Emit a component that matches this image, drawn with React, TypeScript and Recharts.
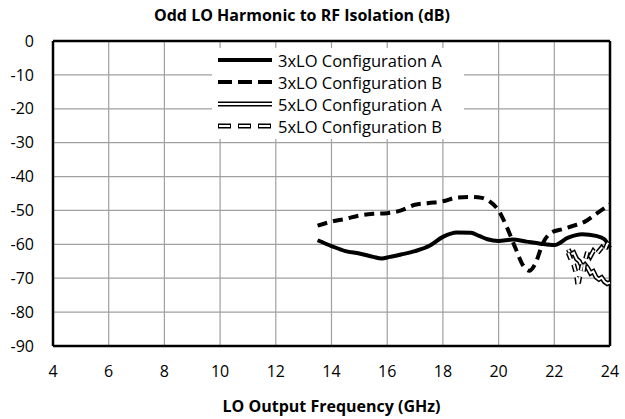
import { LineChart, Line, XAxis, YAxis, CartesianGrid, ReferenceLine } from "recharts";

const xTicks = [4, 6, 8, 10, 12, 14, 16, 18, 20, 22, 24];
const yTicks = [-90, -80, -70, -60, -50, -40, -30, -20, -10, 0];

// 3xLO configuration A (solid)
const freqA3 = [13.5, 14, 14.5, 15, 15.5, 15.8, 16.1, 16.5, 17, 17.5, 18, 18.5, 19, 19.3, 19.6, 20, 20.5, 21, 21.5, 22, 22.5, 23, 23.5, 23.8, 24];
const isoA3 = [-58.8, -60.5, -62, -62.7, -63.7, -64.2, -63.7, -63, -62, -60.5, -57.8, -56.5, -56.6, -57.5, -58.5, -59, -58.6, -59.2, -59.8, -60.2, -58, -57, -57.5, -58.5, -61];

// 3xLO configuration B (dashed)
const freqB3 = [13.5, 14, 14.5, 15, 15.5, 16, 16.5, 17, 17.5, 18, 18.5, 19, 19.4, 19.7, 20, 20.3, 20.6, 20.9, 21.1, 21.3, 21.6, 21.9, 22.3, 22.7, 23.1, 23.5, 24];
const isoB3 = [-54.5, -53.3, -52.5, -51.5, -51, -50.8, -50, -48.3, -47.8, -47.3, -46.2, -46, -46.3, -47.5, -50, -55, -61, -66.5, -67.8, -66, -59.5, -56.5, -55.5, -54.5, -53.3, -51, -48.2];

// 5xLO configuration A (double line)
const freqA5 = [22.5, 22.6, 22.7, 22.8, 22.9, 23, 23.1, 23.2, 23.3, 23.4, 23.5, 23.6, 23.7, 23.8, 23.9, 24];
const isoA5 = [-61.5, -63, -62.5, -64.3, -65, -66.7, -66, -67, -68.5, -68, -69.7, -70.3, -69.8, -71, -71.6, -71.3];

// 5xLO configuration B (double dashed)
const freqB5 = [22.5, 22.6, 22.7, 22.8, 22.85, 22.9, 23, 23.05, 23.1, 23.2, 23.3, 23.4, 23.5, 23.6, 23.7, 23.8, 23.9, 24];
const isoB5 = [-62.5, -64.5, -66, -69, -72.5, -70, -66, -68, -65, -62, -63.5, -62, -63, -62, -61, -62, -60, -59];

const toRows = (f: number[], v: number[]) => f.map((x, i) => ({ f: x, v: v[i] }));

const legendItems = [
  { name: "3xLO Configuration A", kind: "solid" },
  { name: "3xLO Configuration B", kind: "dash" },
  { name: "5xLO Configuration A", kind: "double" },
  { name: "5xLO Configuration B", kind: "doubleDash" },
];

const font = "'Open Sans', sans-serif";

function Sample({ kind }: { kind: string }) {
  return (
    <svg width={56} height={10} style={{ display: "block" }}>
      {kind === "solid" && <line x1={1} y1={5} x2={55} y2={5} stroke="#000" strokeWidth={4} />}
      {kind === "dash" && <line x1={1} y1={5} x2={55} y2={5} stroke="#000" strokeWidth={4} strokeDasharray="14 6" />}
      {kind === "double" && (
        <>
          <line x1={1} y1={5} x2={55} y2={5} stroke="#000" strokeWidth={5} />
          <line x1={1} y1={5} x2={55} y2={5} stroke="#fff" strokeWidth={2} />
        </>
      )}
      {kind === "doubleDash" && (
        <>
          <line x1={1} y1={5} x2={55} y2={5} stroke="#000" strokeWidth={5} strokeDasharray="13 7" />
          <line x1={2} y1={5} x2={55} y2={5} stroke="#fff" strokeWidth={2} strokeDasharray="11 9" />
        </>
      )}
    </svg>
  );
}

export default function App() {
  return (
    <div style={{ position: "absolute", left: 0, top: 0, width: 625, height: 419, background: "#fff", fontFamily: font }}>
      <LineChart width={625} height={419} margin={{ top: 41, right: 15, bottom: 0, left: 0 }}>
        <CartesianGrid stroke="#a0a0a0" strokeWidth={1.2} />
        <XAxis
          type="number"
          dataKey="f"
          domain={[4, 24]}
          ticks={xTicks}
          allowDuplicatedCategory={false}
          axisLine={{ stroke: "#000", strokeWidth: 2.5 }}
          tickLine={false}
          tickMargin={14}
          height={73}
          tick={{ fontSize: 16, fill: "#000", fontFamily: font }}
          label={{ value: "LO Output Frequency (GHz)", position: "insideBottom", offset: 7, style: { fontSize: 16, fontWeight: 700, fill: "#000", fontFamily: font } }}
        />
        <YAxis
          type="number"
          domain={[-90, 0]}
          ticks={yTicks}
          axisLine={{ stroke: "#000", strokeWidth: 2.5 }}
          tickLine={false}
          tickMargin={13}
          width={53}
          tick={{ fontSize: 16, fill: "#000", fontFamily: font }}
        />
        <ReferenceLine y={0} stroke="#000" strokeWidth={2.5} />
        <ReferenceLine x={24} stroke="#000" strokeWidth={2.5} />
        <Line data={toRows(freqA3, isoA3)} dataKey="v" type="monotone" stroke="#000" strokeWidth={4} dot={false} isAnimationActive={false} />
        <Line data={toRows(freqB3, isoB3)} dataKey="v" type="monotone" stroke="#000" strokeWidth={4} strokeDasharray="10 6" dot={false} isAnimationActive={false} />
        <Line data={toRows(freqA5, isoA5)} dataKey="v" type="linear" stroke="#000" strokeWidth={5} dot={false} isAnimationActive={false} />
        <Line data={toRows(freqA5, isoA5)} dataKey="v" type="linear" stroke="#fff" strokeWidth={2} dot={false} isAnimationActive={false} />
        <Line data={toRows(freqB5, isoB5)} dataKey="v" type="linear" stroke="#000" strokeWidth={5} strokeDasharray="7 6" dot={false} isAnimationActive={false} />
        <Line data={toRows(freqB5, isoB5)} dataKey="v" type="linear" stroke="#fff" strokeWidth={2} strokeDasharray="7 6" dot={false} isAnimationActive={false} />
      </LineChart>
      <div style={{ position: "absolute", top: 4, left: 0, width: 604, textAlign: "center", fontWeight: 700, fontSize: 16, color: "#000" }}>
        Odd LO Harmonic to RF Isolation (dB)
      </div>
      <div style={{ position: "absolute", left: 212, top: 48, width: 252, height: 90, background: "#fff", paddingTop: 1 }}>
        {legendItems.map((it) => (
          <div key={it.name} style={{ display: "flex", alignItems: "center", height: 22 }}>
            <div style={{ marginLeft: 5, marginRight: 5 }}>
              <Sample kind={it.kind} />
            </div>
            <span style={{ fontSize: 16.5, color: "#000", whiteSpace: "nowrap" }}>{it.name}</span>
          </div>
        ))}
      </div>
    </div>
  );
}
